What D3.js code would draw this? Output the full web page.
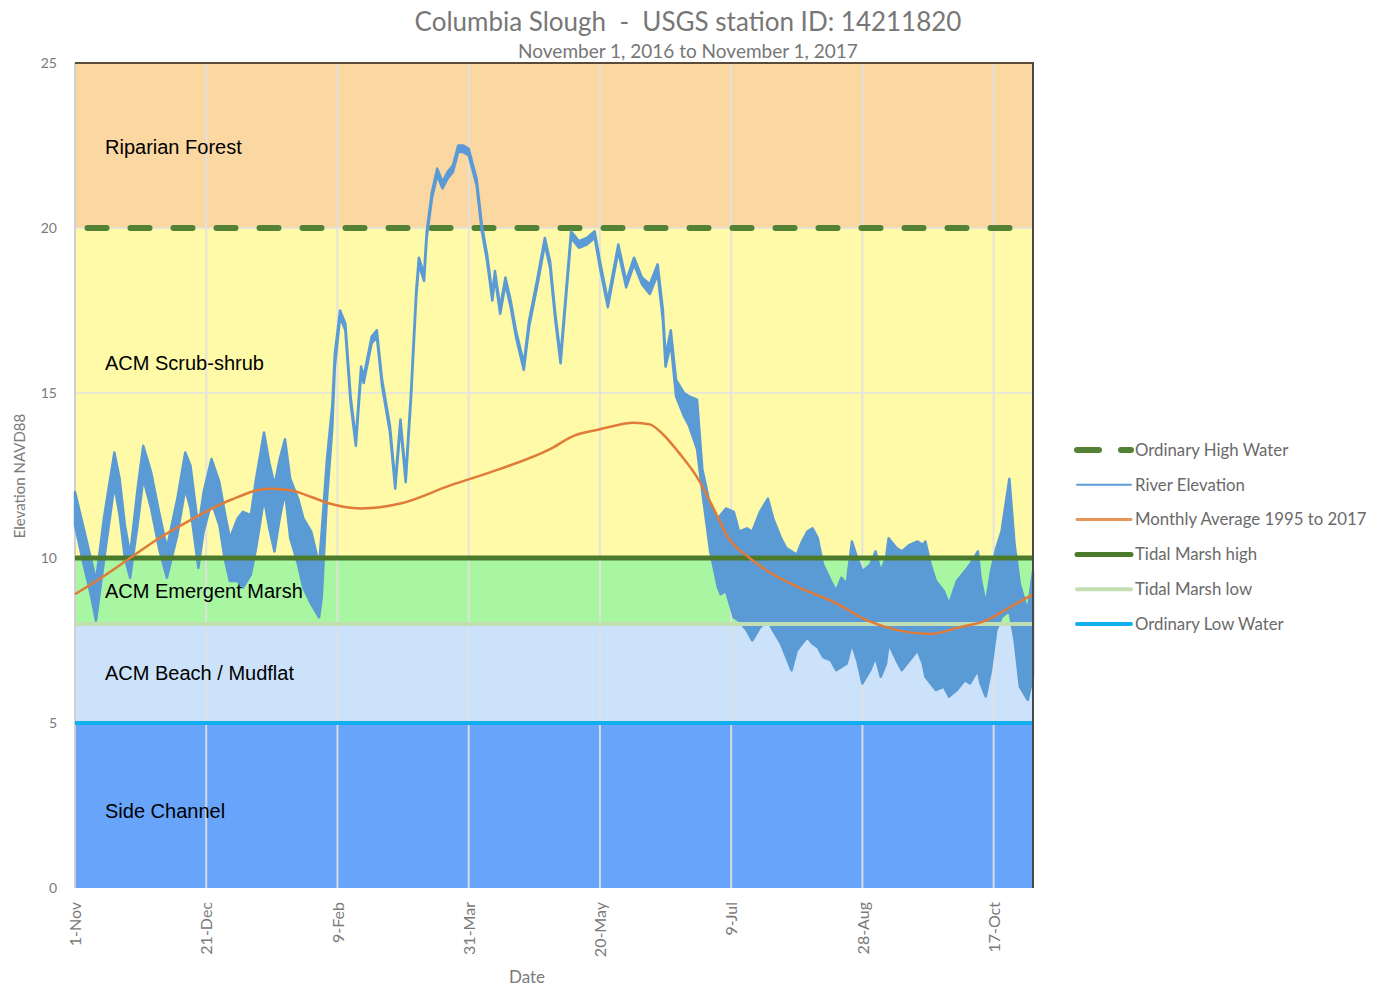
<!DOCTYPE html>
<html>
<head>
<meta charset="utf-8">
<script src="https://cdn.jsdelivr.net/npm/d3@7"></script>
<style>
  body { margin: 0; background: #fff; }
  svg { display: block; }
</style>
</head>
<body>
<div id="chart"></div>
<script>
// river elevation: day offset from 1 Nov 2016, band top and bottom (ft)
const riverDay = [
    0, 3, 6, 8, 11, 15, 17, 19, 21, 24,
    26, 29, 32, 35, 39, 42, 44, 47, 49, 52,
    55, 57, 59, 62, 64, 67, 69, 72, 74, 76,
    78, 80, 82, 85, 87, 90, 93, 94, 96, 98,
    99, 101, 103, 105, 107, 109, 110, 113, 115, 117,
    120, 122, 124, 126, 128, 130, 131, 133, 134, 136,
    138, 140, 142, 144, 146, 148, 150, 153, 155, 157,
    159, 160, 162, 164, 166, 168, 171, 173, 176, 179,
    181, 183, 185, 187, 189, 192, 195, 198, 200, 203,
    207, 210, 213, 216, 219, 222, 224, 225, 227, 229,
    232, 234, 237, 239, 242, 245, 246, 248, 251, 253,
    256, 258, 261, 264, 266, 269, 271, 273, 275, 277,
    279, 281, 283, 285, 288, 290, 292, 294, 296, 298,
    300, 303, 305, 307, 309, 310, 313, 315, 318, 321,
    323, 324, 326, 328, 331, 333, 336, 339, 341, 344,
    345, 347, 349, 351, 353, 356, 358, 360, 363, 365
];
const riverHigh = [
    12.0, 11.0, 10.0, 9.3, 11.2, 13.2, 12.4, 11.0, 10.1, 12.2,
    13.4, 12.6, 11.4, 10.3, 11.8, 13.2, 12.8, 10.9, 12.0, 13.0,
    12.3, 11.4, 10.6, 11.2, 11.4, 11.3, 12.4, 13.8, 12.9, 12.2,
    13.0, 13.6, 12.4, 11.8, 11.2, 10.8, 9.8, 10.8, 13.0, 14.6,
    16.2, 17.5, 17.1, 14.9, 13.6, 15.8, 15.5, 16.7, 16.9, 15.4,
    14.0, 12.3, 14.2, 12.5, 15.0, 18.1, 19.1, 18.6, 19.9, 21.1,
    21.8, 21.4, 21.7, 21.9, 22.5, 22.5, 22.4, 21.5, 20.1, 19.2,
    18.0, 18.7, 17.6, 18.5, 17.8, 16.9, 15.9, 17.2, 18.4, 19.7,
    19.0, 17.4, 16.1, 18.0, 19.9, 19.6, 19.7, 19.9, 19.0, 17.8,
    19.5, 18.4, 19.1, 18.5, 18.3, 18.9, 17.5, 16.1, 16.9, 15.4,
    15.0, 14.9, 14.8, 12.7, 11.6, 11.2, 11.3, 11.5, 11.4, 10.8,
    10.9, 10.8, 11.4, 11.8, 11.2, 10.6, 10.3, 10.2, 10.1, 10.5,
    10.8, 10.9, 10.6, 9.8, 9.3, 9.0, 9.4, 9.2, 10.5, 10.0,
    9.6, 9.8, 10.2, 9.6, 10.0, 10.6, 10.3, 10.2, 10.4, 10.5,
    10.4, 10.5, 9.8, 9.3, 9.0, 8.6, 9.3, 9.6, 9.8, 10.2,
    9.4, 8.6, 9.6, 10.3, 10.8, 12.4, 10.4, 9.2, 8.4, 9.6
];
const riverLow = [
    11.0, 9.9, 8.9, 8.1, 9.9, 12.2, 11.3, 10.0, 9.4, 11.1,
    12.4, 11.5, 10.3, 9.4, 10.7, 12.1, 11.5, 9.7, 10.8, 11.7,
    11.0, 10.0, 9.3, 9.3, 9.1, 9.5, 10.3, 11.8, 10.9, 10.2,
    11.2, 12.0, 10.6, 9.8, 9.1, 8.6, 8.2, 8.8, 11.8, 13.9,
    15.8, 17.3, 16.9, 14.7, 13.4, 15.6, 15.3, 16.5, 16.7, 15.2,
    13.8, 12.1, 14.0, 12.3, 14.8, 17.9, 18.9, 18.4, 19.7, 20.9,
    21.6, 21.2, 21.5, 21.7, 22.3, 22.3, 22.2, 21.3, 19.9, 19.0,
    17.8, 18.5, 17.4, 18.3, 17.6, 16.7, 15.7, 17.0, 18.2, 19.5,
    18.8, 17.2, 15.9, 17.8, 19.7, 19.4, 19.5, 19.7, 18.8, 17.6,
    19.3, 18.2, 18.9, 18.3, 18.0, 18.6, 17.2, 15.8, 16.5, 14.9,
    14.3, 14.0, 13.3, 12.0, 10.2, 9.1, 8.9, 9.0, 8.2, 8.1,
    7.8, 7.5, 7.9, 8.1, 7.8, 7.4, 7.0, 6.6, 7.2, 7.4,
    7.6, 7.4, 7.3, 7.0, 6.9, 6.6, 6.7, 6.8, 7.4, 6.9,
    6.2, 6.6, 7.0, 6.4, 6.8, 7.4, 6.9, 6.6, 6.9, 7.2,
    6.8, 6.4, 6.2, 6.0, 6.1, 5.8, 6.0, 6.3, 6.2, 6.6,
    6.2, 5.8, 6.6, 7.8, 8.2, 8.4, 7.5, 6.1, 5.7, 6.4
];

// monthly average 1995 to 2017
const avgDay = [0, 10, 21, 32, 44, 59, 74, 82, 90, 97, 109, 124, 143, 162, 181, 190, 200, 213, 219, 224, 230, 237, 243, 249, 257, 264, 276, 289, 302, 314, 326, 337, 347, 356, 365];
const avgValue = [8.9, 9.4, 10.0, 10.6, 11.15, 11.75, 12.1, 12.05, 11.85, 11.65, 11.5, 11.65, 12.2, 12.7, 13.3, 13.7, 13.9, 14.1, 14.05, 13.75, 13.2, 12.45, 11.55, 10.6, 10.0, 9.6, 9.1, 8.67, 8.1, 7.8, 7.7, 7.9, 8.1, 8.5, 8.9];

// habitat zones
const zoneNames = ["Riparian Forest", "ACM Scrub-shrub", "ACM Emergent Marsh", "ACM Beach / Mudflat", "Side Channel"];
const zoneTop = [25, 20, 10, 8, 5];
const zoneBottom = [20, 10, 8, 5, 0];
const zoneColors = ["#fbd7a2", "#fefaa8", "#a8f6a2", "#cbe2fa", "#67a4fa"];
const zoneLabelAt = [22.25, 15.7, 8.8, 6.3, 2.12];

// reference levels
const levelNames = ["Ordinary High Water", "Tidal Marsh high", "Tidal Marsh low", "Ordinary Low Water"];
const levelValues = [20, 10, 8, 5];

const xTickDays = [0, 50, 100, 150, 200, 250, 300, 350];
const yTicks = [0, 5, 10, 15, 20, 25];

const legendNames = ["Ordinary High Water", "River Elevation", "Monthly Average 1995 to 2017", "Tidal Marsh high", "Tidal Marsh low", "Ordinary Low Water"];

const width = 1373;
const height = 988;
const margin = { top: 63, right: 340, bottom: 100, left: 75 };
const plotW = 958;
const plotH = 825;

const start = new Date(2016, 10, 1);
const end = new Date(2017, 10, 1);
const dayToDate = d => d3.timeDay.offset(start, d);

const x = d3.scaleTime().domain([start, end]).range([0, plotW]);
const y = d3.scaleLinear().domain([0, 25]).range([plotH, 0]);

const svg = d3.select("#chart").append("svg")
    .attr("width", width)
    .attr("height", height);

const g = svg.append("g").attr("transform", `translate(${margin.left},${margin.top})`);

// zone bands
g.selectAll("rect.zone")
    .data(zoneNames)
    .enter()
    .append("rect")
    .attr("class", "zone")
    .attr("x", 0)
    .attr("width", plotW)
    .attr("y", (d, i) => y(zoneTop[i]))
    .attr("height", (d, i) => y(zoneBottom[i]) - y(zoneTop[i]))
    .attr("fill", (d, i) => zoneColors[i]);

// grid
g.selectAll("line.vgrid")
    .data(xTickDays.slice(1))
    .enter()
    .append("line")
    .attr("x1", d => x(dayToDate(d)))
    .attr("x2", d => x(dayToDate(d)))
    .attr("y1", 0)
    .attr("y2", plotH)
    .attr("stroke", "#e2e2e2")
    .attr("stroke-width", 2)
    .attr("opacity", 0.9);

g.selectAll("line.hgrid")
    .data(yTicks.filter(v => v > 0 && v < 25))
    .enter()
    .append("line")
    .attr("x1", 0)
    .attr("x2", plotW)
    .attr("y1", d => y(d))
    .attr("y2", d => y(d))
    .attr("stroke", "#e2e2e2")
    .attr("stroke-width", 1.5);

// left edge
g.append("line")
    .attr("x1", 0).attr("x2", 0)
    .attr("y1", 0).attr("y2", plotH)
    .attr("stroke", "#d0d0d0")
    .attr("stroke-width", 2);

// ordinary high water, dashed
g.append("line")
    .attr("x1", 0).attr("x2", plotW)
    .attr("y1", y(levelValues[0])).attr("y2", y(levelValues[0]))
    .attr("stroke", "#548235")
    .attr("stroke-width", 6)
    .attr("stroke-dasharray", "19 24")
    .attr("stroke-dashoffset", -12.5)
    .attr("stroke-linecap", "round");

// river elevation
const river = riverDay.map((d, i) => ({ date: dayToDate(d), hi: riverHigh[i], lo: riverLow[i] }));

const riverArea = d3.area()
    .x(d => x(d.date))
    .y0(d => y(d.lo))
    .y1(d => y(d.hi));

g.append("path")
    .datum(river)
    .attr("d", riverArea)
    .attr("fill", "#5b9bd5")
    .attr("stroke", "#5b9bd5")
    .attr("stroke-width", 2.5)
    .attr("stroke-linejoin", "round");

// other reference lines
const levelStyles = [null, { color: "#4b7a2c", w: 5 }, { color: "#c2dfb2", w: 4 }, { color: "#12aef0", w: 4 }];
levelValues.forEach((v, i) => {
    if (i === 0) return;
    g.append("line")
        .attr("x1", 0).attr("x2", plotW)
        .attr("y1", y(v)).attr("y2", y(v))
        .attr("stroke", levelStyles[i].color)
        .attr("stroke-width", levelStyles[i].w);
});

// monthly average
const avgLine = d3.line()
    .x((d, i) => x(dayToDate(avgDay[i])))
    .y(d => y(d))
    .curve(d3.curveMonotoneX);

g.append("path")
    .datum(avgValue)
    .attr("d", avgLine)
    .attr("fill", "none")
    .attr("stroke", "#e07b39")
    .attr("stroke-width", 2.5);

// frame top + right
g.append("line")
    .attr("x1", 0).attr("x2", plotW + 1)
    .attr("y1", 0).attr("y2", 0)
    .attr("stroke", "#5a4a3a")
    .attr("stroke-width", 2);
g.append("line")
    .attr("x1", plotW).attr("x2", plotW)
    .attr("y1", 0).attr("y2", plotH)
    .attr("stroke", "#4a4a4a")
    .attr("stroke-width", 2);

// zone labels
g.selectAll("text.zone-label")
    .data(zoneNames)
    .enter()
    .append("text")
    .attr("x", 30)
    .attr("y", (d, i) => y(zoneLabelAt[i]))
    .attr("font-family", "Liberation Sans, Arial, sans-serif")
    .attr("font-size", 20)
    .attr("fill", "#000")
    .text(d => d);

// axes
const xAxis = d3.axisBottom(x)
    .tickValues(xTickDays.map(dayToDate))
    .tickFormat(d3.timeFormat("%-d-%b"))
    .tickSize(0);

const xg = g.append("g")
    .attr("transform", `translate(0,${plotH})`)
    .call(xAxis);
xg.select(".domain").remove();
xg.selectAll("text")
    .attr("transform", "rotate(-90)")
    .attr("text-anchor", "end")
    .attr("x", -14)
    .attr("y", 0)
    .attr("dy", "0.35em")
    .attr("font-family", "Lato, sans-serif")
    .attr("font-size", 16)
    .attr("fill", "#7a7a7a");

const yAxis = d3.axisLeft(y).tickValues(yTicks).tickSize(0);
const yg = g.append("g").call(yAxis);
yg.select(".domain").remove();
yg.selectAll("text")
    .attr("x", -18)
    .attr("font-family", "Lato, sans-serif")
    .attr("font-size", 14)
    .attr("fill", "#7a7a7a");

// titles
svg.append("text")
    .attr("x", 688).attr("y", 31)
    .attr("text-anchor", "middle")
    .attr("font-family", "Lato, sans-serif")
    .attr("font-size", 26)
    .attr("fill", "#777")
    .attr("xml:space", "preserve")
    .text("Columbia Slough  -  USGS station ID: 14211820");

svg.append("text")
    .attr("x", 688).attr("y", 58)
    .attr("text-anchor", "middle")
    .attr("font-family", "Lato, sans-serif")
    .attr("font-size", 19)
    .attr("fill", "#777")
    .text("November 1, 2016 to November 1, 2017");

svg.append("text")
    .attr("x", 527).attr("y", 983)
    .attr("text-anchor", "middle")
    .attr("font-family", "Lato, sans-serif")
    .attr("font-size", 17)
    .attr("fill", "#7a7a7a")
    .text("Date");

svg.append("text")
    .attr("transform", "translate(25,476) rotate(-90)")
    .attr("text-anchor", "middle")
    .attr("font-family", "Lato, sans-serif")
    .attr("font-size", 15)
    .attr("fill", "#7a7a7a")
    .text("Elevation NAVD88");

// legend
const legend = svg.append("g").attr("transform", "translate(1075,450)");
const legendStyles = [
    { color: "#548235", w: 6, dash: "22 22" },
    { color: "#5b9bd5", w: 2 },
    { color: "#e8955a", w: 3 },
    { color: "#4b7a2c", w: 5 },
    { color: "#c2dfb2", w: 4 },
    { color: "#12aef0", w: 4 }
];

legendNames.forEach((name, i) => {
    const row = legend.append("g").attr("transform", `translate(0,${i * 34.8})`);
    const st = legendStyles[i];
    row.append("line")
        .attr("x1", 2).attr("x2", 56)
        .attr("y1", 0).attr("y2", 0)
        .attr("stroke", st.color)
        .attr("stroke-width", st.w)
        .attr("stroke-linecap", "round")
        .attr("stroke-dasharray", st.dash || null);
    row.append("text")
        .attr("x", 60)
        .attr("y", 0)
        .attr("dy", "0.35em")
        .attr("font-family", "Lato, sans-serif")
        .attr("font-size", 16.8)
        .attr("fill", "#6a6a6a")
        .text(name);
});
</script>
</body>
</html>
